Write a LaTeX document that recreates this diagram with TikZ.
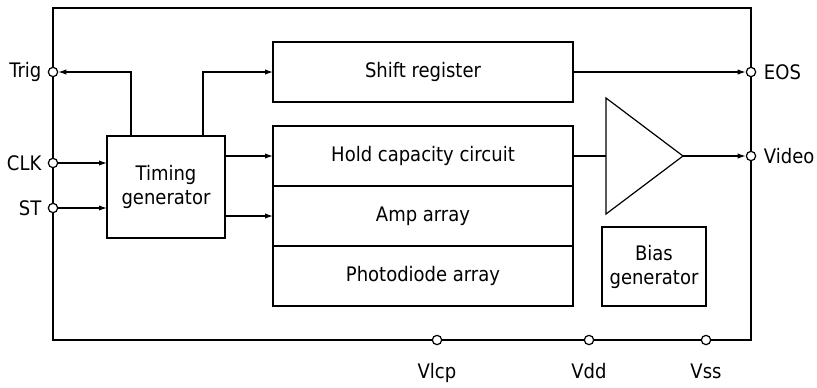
\documentclass[tikz,border=0pt]{standalone}
\usepackage{fontspec}
\setmainfont{DejaVu Sans Condensed}
\usetikzlibrary{arrows.meta, positioning}

\begin{document}
\begin{tikzpicture}[x=0.75pt, y=-0.75pt, line width=0.9pt,
  font=\fontsize{15}{18}\selectfont,
  block/.style={draw, rectangle, minimum width=225pt, minimum height=45pt,
    inner sep=0pt, outer sep=0pt, align=center},
  port/.style={draw, circle, fill=white, inner sep=0pt, minimum size=7pt},
  >={Latex[length=6pt, width=4pt]}]
  \useasboundingbox (0,0) rectangle (817,387);
  \draw (53,8) rectangle (751,340);

  \node[block, minimum width=88.5pt, minimum height=76.5pt] (TG) at (166,187) {Timing\\generator};
  \node[block] (SR) at (423,72) {Shift register};
  \node[block] (HC) at (423,156) {Hold capacity circuit};
  \node[block, below=0pt of HC] (AA) {Amp array};
  \node[block, below=0pt of AA] (PD) {Photodiode array};
  \node[block, minimum width=78pt, minimum height=59.25pt] (BG) at (654,266.5) {Bias\\generator};

  % output buffer
  \coordinate (A1) at (606,98);
  \coordinate (A2) at (606,214);
  \coordinate (AO) at (683,156);
  \draw (A1) -- (AO) -- (A2) -- cycle;

  % pins
  \node[port, label={[label distance=1pt]left:Trig}] (Trig) at (53,72) {};
  \node[port, label={[label distance=1pt]left:CLK}] (CLK) at (53,163) {};
  \node[port, label={[label distance=1pt]left:ST}] (ST) at (53,208) {};
  \node[port, label={[label distance=2pt]right:EOS}] (EOS) at (751,72) {};
  \node[port, label={[label distance=2pt]right:Video}] (Video) at (751,156) {};
  \node[port, label={[label distance=10pt]below:Vlcp}] (Vlcp) at (437,340) {};
  \node[port, label={[label distance=10pt]below:Vdd}] (Vdd) at (589,340) {};
  \node[port, label={[label distance=10pt]below:Vss}] (Vss) at (706,340) {};

  \draw[->] ([xshift=18pt]TG.north west) |- (Trig);
  \draw[->] ([xshift=-16.5pt]TG.north east) |- (SR.west);
  \draw[->] (CLK) -- (CLK -| TG.west);
  \draw[->] (ST) -- (ST -| TG.west);
  \draw[->] (TG.east |- HC) -- (HC.west);
  \draw[->] (TG.east |- AA) -- (AA.west);
  \draw (HC.east) -- (HC.east -| A1);
  \draw[->] (AO) -- (Video);
  \draw[->] (SR.east) -- (EOS);
\end{tikzpicture}
\end{document}
